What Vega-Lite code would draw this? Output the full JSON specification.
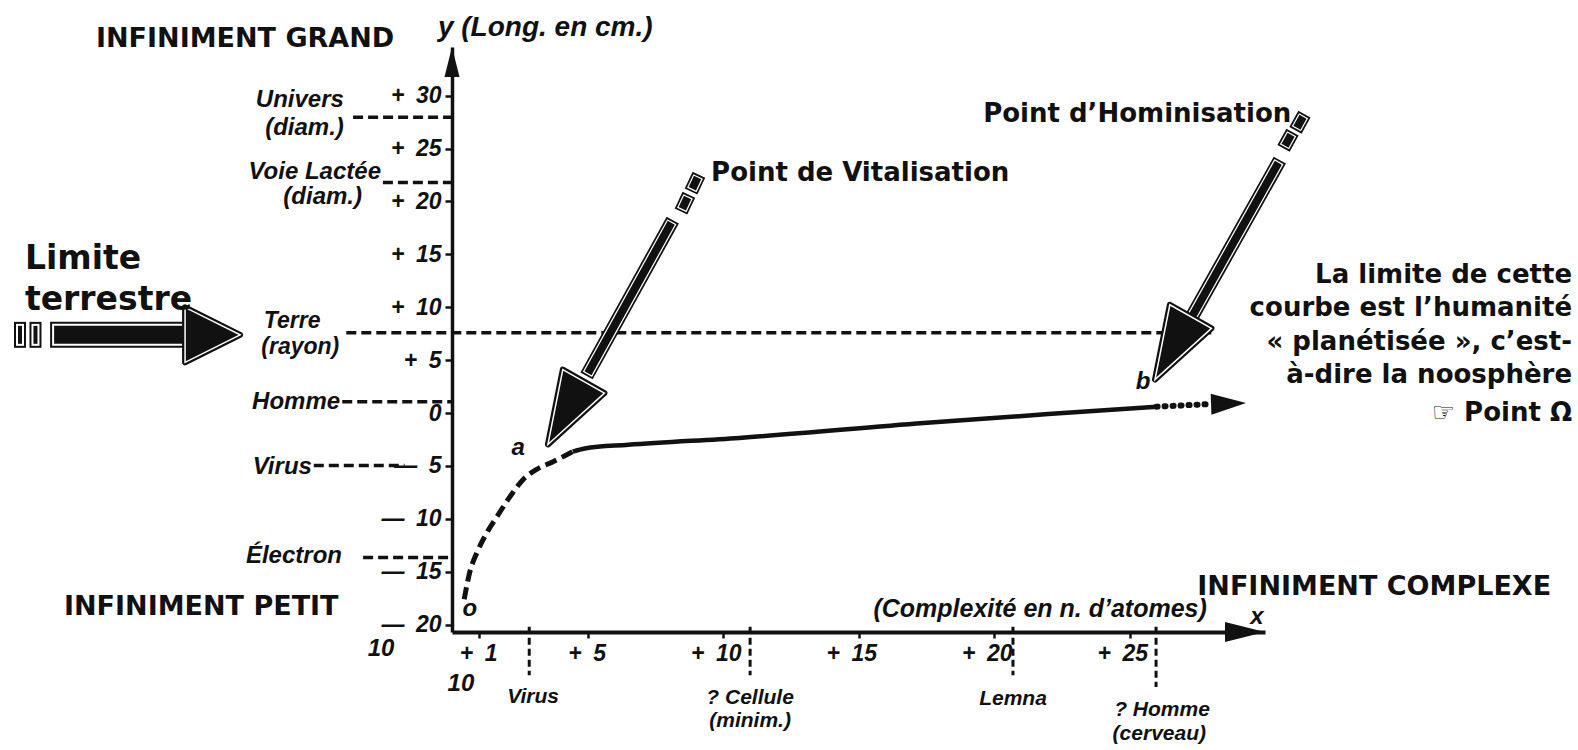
{
  "$schema": "https://vega.github.io/schema/vega-lite/v6.json",
  "width": 813,
  "height": 585,
  "autosize": {"type": "none"},
  "padding": {"left": 452, "top": 47, "right": 313, "bottom": 118},
  "background": "white",
  "config": {"view": {"stroke": null}, "axis": {"grid": false}},
  "datasets": {
    "refs": [
      {"x": -3.65, "x2": 0, "y": 27.95},
      {"x": -2.55, "x2": 0, "y": 21.8},
      {"x": -3.9, "x2": 28.1, "y": 7.58},
      {"x": -4.05, "x2": 0, "y": 1.07},
      {"x": -5.1, "x2": -1.75, "y": -4.95},
      {"x": -3.28, "x2": 0, "y": -13.65}
    ],
    "vmarks": [
      {"x": 2.85, "y": -20.2, "y2": -24.8},
      {"x": 11.0, "y": -20.2, "y2": -24.8},
      {"x": 20.7, "y": -20.2, "y2": -24.8},
      {"x": 25.98, "y": -20.2, "y2": -25.9}
    ],
    "curveDashed": [
      {"x": 0.45, "y": -17.6}, {"x": 0.66, "y": -15.0}, {"x": 0.92, "y": -13.2},
      {"x": 1.29, "y": -11.3}, {"x": 1.66, "y": -9.8}, {"x": 2.14, "y": -7.9},
      {"x": 2.62, "y": -6.3}, {"x": 3.14, "y": -5.3}, {"x": 3.73, "y": -4.6},
      {"x": 4.46, "y": -3.65}
    ],
    "curveSolid": [
      {"x": 4.46, "y": -3.65}, {"x": 4.9, "y": -3.35}, {"x": 6.5, "y": -3.0},
      {"x": 10.6, "y": -2.35}, {"x": 17.4, "y": -0.95}, {"x": 22.0, "y": -0.1},
      {"x": 26.0, "y": 0.6}
    ],
    "curveDotted": [{"x": 26.0, "y": 0.6}, {"x": 28.0, "y": 0.85}],
    "curveTip": [{"x": 29.3, "y": 0.95}],
    "yTip": [{"x": 0, "y": 34.6}],
    "xTip": [{"x": 30, "y": -20.7}],
    "diagShafts": [
      {"x": 8.02, "y": 17.65, "x2": 5.09, "y2": 4.09},
      {"x": 8.56, "y": 19.65, "x2": 8.63, "y2": 20.03},
      {"x": 8.93, "y": 21.54, "x2": 9.0, "y2": 21.92},
      {"x": 30.42, "y": 23.33, "x2": 27.34, "y2": 9.27},
      {"x": 30.81, "y": 25.6, "x2": 30.89, "y2": 25.97},
      {"x": 31.25, "y": 27.3, "x2": 31.33, "y2": 27.67}
    ],
    "diagHeads": [{"x": 3.54, "y": -2.97}, {"x": 25.94, "y": 3.16}],
    "hShaft": [{"x": -14.35, "x2": -9.85, "y": 7.39}],
    "hBlocks": [{"x": -15.94, "y": 8.05, "y2": 6.73}, {"x": -15.37, "y": 8.05, "y2": 6.73}],
    "hHead": [{"x": -7.82, "y": 7.39}],
    "bigCaps": [
      {"x": -13.14, "y": 35.4, "label": "INFINIMENT  GRAND"},
      {"x": -14.32, "y": -18.37, "label": "INFINIMENT PETIT"},
      {"x": 27.5, "y": -16.4, "label": "INFINIMENT COMPLEXE"}
    ],
    "limite": [
      {"x": -15.76, "y": 14.6, "label": "Limite"},
      {"x": -15.76, "y": 10.7, "label": "terrestre"}
    ],
    "points": [
      {"x": 9.56, "y": 22.67, "label": "Point de Vitalisation"},
      {"x": 19.6, "y": 28.3, "label": "Point d’Hominisation"}
    ],
    "rightBlock": [
      {"x": 41.33, "y": 13.05, "label": "La limite de cette"},
      {"x": 41.33, "y": 9.93, "label": "courbe est l’humanité"},
      {"x": 41.33, "y": 6.73, "label": "« planétisée », c’est-"},
      {"x": 41.33, "y": 3.61, "label": "à-dire la noosphère"},
      {"x": 41.33, "y": 0.03, "label": "☞ Point Ω"}
    ],
    "sideLabels": [
      {"x": -3.99, "y": 29.56, "label": "Univers"},
      {"x": -3.99, "y": 26.9, "label": "(diam.)"},
      {"x": -2.62, "y": 22.77, "label": "Voie Lactée"},
      {"x": -3.32, "y": 20.4, "label": "(diam.)"},
      {"x": -4.13, "y": 1.07, "label": "Homme"},
      {"x": -5.17, "y": -5.07, "label": "Virus"},
      {"x": -4.06, "y": -13.56, "label": "Électron"}
    ],
    "terreLabels": [
      {"x": -5.9, "y": 8.7, "label": "Terre"},
      {"x": -5.6, "y": 6.2, "label": "(rayon)"}
    ],
    "centerLabels": [
      {"x": 2.99, "y": -26.8, "label": "Virus"},
      {"x": 11.0, "y": -26.9, "label": "? Cellule"},
      {"x": 11.0, "y": -29.1, "label": "(minim.)"},
      {"x": 20.7, "y": -27.0, "label": "Lemna"},
      {"x": 26.2, "y": -28.1, "label": "? Homme"},
      {"x": 26.1, "y": -30.3, "label": "(cerveau)"}
    ],
    "letters": [
      {"x": 2.44, "y": -3.27, "label": "a"},
      {"x": 25.5, "y": 2.9, "label": "b"},
      {"x": 0.66, "y": -18.56, "label": "o"},
      {"x": 29.7, "y": -19.3, "label": "x"}
    ],
    "bases": [
      {"x": -2.62, "y": -22.35, "label": "10"},
      {"x": 0.33, "y": -25.6, "label": "10"}
    ],
    "yTitle": [{"x": -0.52, "y": 36.44, "label": "y (Long. en cm.)"}],
    "xTitle": [{"x": 21.7, "y": -18.56, "label": "(Complexité en n. d’atomes)"}]
  },
  "encoding": {
    "x": {
      "field": "x", "type": "quantitative",
      "scale": {"domain": [0, 30], "nice": false, "zero": false},
      "axis": {
        "title": null, "grid": false,
        "values": [1, 5, 10, 15, 20, 25],
        "labelExpr": "'+\u2002' + datum.value",
        "domainColor": "#111", "domainWidth": 4,
        "tickColor": "#111", "tickWidth": 2.5, "tickSize": 6,
        "labelFont": "Liberation Sans", "labelFontStyle": "italic", "labelFontWeight": "bold",
        "labelFontSize": 23, "labelColor": "#111",
        "labelAlign": "right", "labelOffset": 18, "labelPadding": 4,
        "labelFlush": false, "labelOverlap": false
      }
    },
    "y": {
      "field": "y", "type": "quantitative",
      "scale": {"domain": [-20.7, 34.6], "nice": false, "zero": false},
      "axis": {
        "title": null, "grid": false,
        "values": [-20, -15, -10, -5, 0, 5, 10, 15, 20, 25, 30],
        "labelExpr": "datum.value > 0 ? '+\u2002' + datum.value : (datum.value < 0 ? '—\u2002' + (-datum.value) : '0')",
        "domainColor": "#111", "domainWidth": 3.5,
        "tickColor": "#111", "tickWidth": 2.5, "tickSize": 7,
        "labelFont": "Liberation Sans", "labelFontStyle": "italic", "labelFontWeight": "bold",
        "labelFontSize": 23, "labelColor": "#111", "labelPadding": 4,
        "labelFlush": false, "labelOverlap": false
      }
    }
  },
  "layer": [
    {"data": {"name": "refs"}, "mark": {"type": "rule", "color": "#111", "strokeWidth": 3.5, "strokeDash": [10, 5]}, "encoding": {"x2": {"field": "x2"}}},
    {"data": {"name": "vmarks"}, "mark": {"type": "rule", "color": "#111", "strokeWidth": 3, "strokeDash": [7, 4]}, "encoding": {"y2": {"field": "y2"}}},
    {"data": {"name": "curveDashed"}, "mark": {"type": "line", "color": "#111", "strokeWidth": 5, "strokeDash": [12, 6], "interpolate": "monotone"}, "encoding": {}},
    {"data": {"name": "curveSolid"}, "mark": {"type": "line", "color": "#111", "strokeWidth": 4.5, "interpolate": "monotone"}, "encoding": {}},
    {"data": {"name": "curveDotted"}, "mark": {"type": "line", "color": "#111", "strokeWidth": 6, "strokeDash": [1, 7], "strokeCap": "round"}, "encoding": {}},
    {"data": {"name": "curveTip"}, "mark": {"type": "point", "shape": "M0,0L0.3,1L-0.3,1Z", "angle": 88, "size": 4900, "fill": "#111", "stroke": null, "opacity": 1, "filled": true}},
    {"data": {"name": "yTip"}, "mark": {"type": "point", "shape": "M0,0L0.25,1L-0.25,1Z", "angle": 0, "size": 3600, "fill": "#111", "stroke": null, "opacity": 1, "filled": true}},
    {"data": {"name": "xTip"}, "mark": {"type": "point", "shape": "M0,0L0.25,1L-0.25,1Z", "angle": 90, "size": 6400, "fill": "#111", "stroke": null, "opacity": 1, "filled": true}},
    {"data": {"name": "diagShafts"}, "mark": {"type": "rule", "color": "#111", "strokeWidth": 14, "strokeCap": "square"}, "encoding": {"x2": {"field": "x2"}, "y2": {"field": "y2"}}},
    {"data": {"name": "diagShafts"}, "mark": {"type": "rule", "color": "white", "strokeWidth": 10.5, "strokeCap": "square"}, "encoding": {"x2": {"field": "x2"}, "y2": {"field": "y2"}}},
    {"data": {"name": "diagShafts"}, "mark": {"type": "rule", "color": "#111", "strokeWidth": 8, "strokeCap": "square"}, "encoding": {"x2": {"field": "x2"}, "y2": {"field": "y2"}}},
    {"data": {"name": "diagHeads"}, "mark": {"type": "point", "shape": "M0,0L0.33,1L-0.33,1Z", "angle": 209.5, "size": 21000, "filled": true, "fill": "#111", "stroke": "#111", "strokeWidth": 6, "strokeJoin": "round", "opacity": 1}},
    {"data": {"name": "diagHeads"}, "mark": {"type": "point", "shape": "M0,0L0.33,1L-0.33,1Z", "angle": 209.5, "size": 21000, "filled": true, "fill": "#111", "stroke": "white", "strokeWidth": 1.5, "opacity": 1}},
    {"data": {"name": "hShaft"}, "mark": {"type": "rule", "color": "#111", "strokeWidth": 26, "strokeCap": "square"}, "encoding": {"x2": {"field": "x2"}}},
    {"data": {"name": "hShaft"}, "mark": {"type": "rule", "color": "white", "strokeWidth": 22, "strokeCap": "square"}, "encoding": {"x2": {"field": "x2"}}},
    {"data": {"name": "hShaft"}, "mark": {"type": "rule", "color": "#111", "strokeWidth": 18, "strokeCap": "square"}, "encoding": {"x2": {"field": "x2"}}},
    {"data": {"name": "hBlocks"}, "mark": {"type": "rule", "color": "#111", "strokeWidth": 12, "strokeCap": "square"}, "encoding": {"y2": {"field": "y2"}}},
    {"data": {"name": "hBlocks"}, "mark": {"type": "rule", "color": "white", "strokeWidth": 8, "strokeCap": "square"}, "encoding": {"y2": {"field": "y2"}}},
    {"data": {"name": "hBlocks"}, "mark": {"type": "rule", "color": "#111", "strokeWidth": 4, "strokeCap": "square"}, "encoding": {"y2": {"field": "y2"}}},
    {"data": {"name": "hHead"}, "mark": {"type": "point", "shape": "M0,0L0.5,1L-0.5,1Z", "angle": 90, "size": 12100, "filled": true, "fill": "#111", "stroke": "#111", "strokeWidth": 6, "strokeJoin": "round", "opacity": 1}},
    {"data": {"name": "hHead"}, "mark": {"type": "point", "shape": "M0,0L0.5,1L-0.5,1Z", "angle": 90, "size": 12100, "filled": true, "fill": "#111", "stroke": "white", "strokeWidth": 1.5, "opacity": 1}},
    {"data": {"name": "bigCaps"}, "mark": {"type": "text", "font": "DejaVu Sans", "fontWeight": "bold", "fontSize": 27, "align": "left", "baseline": "middle", "color": "#111"}, "encoding": {"text": {"field": "label"}}},
    {"data": {"name": "limite"}, "mark": {"type": "text", "font": "DejaVu Sans", "fontWeight": "bold", "fontSize": 33, "align": "left", "baseline": "middle", "color": "#111"}, "encoding": {"text": {"field": "label"}}},
    {"data": {"name": "points"}, "mark": {"type": "text", "font": "DejaVu Sans", "fontWeight": "bold", "fontSize": 26, "align": "left", "baseline": "middle", "color": "#111"}, "encoding": {"text": {"field": "label"}}},
    {"data": {"name": "rightBlock"}, "mark": {"type": "text", "font": "DejaVu Sans", "fontWeight": "bold", "fontSize": 26, "align": "right", "baseline": "middle", "color": "#111"}, "encoding": {"text": {"field": "label"}}},
    {"data": {"name": "sideLabels"}, "mark": {"type": "text", "font": "Liberation Sans", "fontStyle": "italic", "fontWeight": "bold", "fontSize": 24, "align": "right", "baseline": "middle", "color": "#111"}, "encoding": {"text": {"field": "label"}}},
    {"data": {"name": "terreLabels"}, "mark": {"type": "text", "font": "Liberation Sans", "fontStyle": "italic", "fontWeight": "bold", "fontSize": 23, "align": "center", "baseline": "middle", "color": "#111"}, "encoding": {"text": {"field": "label"}}},
    {"data": {"name": "centerLabels"}, "mark": {"type": "text", "font": "Liberation Sans", "fontStyle": "italic", "fontWeight": "bold", "fontSize": 21, "align": "center", "baseline": "middle", "color": "#111"}, "encoding": {"text": {"field": "label"}}},
    {"data": {"name": "letters"}, "mark": {"type": "text", "font": "Liberation Sans", "fontStyle": "italic", "fontWeight": "bold", "fontSize": 24, "align": "center", "baseline": "middle", "color": "#111"}, "encoding": {"text": {"field": "label"}}},
    {"data": {"name": "bases"}, "mark": {"type": "text", "font": "Liberation Sans", "fontStyle": "italic", "fontWeight": "bold", "fontSize": 24, "align": "center", "baseline": "middle", "color": "#111"}, "encoding": {"text": {"field": "label"}}},
    {"data": {"name": "yTitle"}, "mark": {"type": "text", "font": "Liberation Sans", "fontStyle": "italic", "fontWeight": "bold", "fontSize": 28, "align": "left", "baseline": "middle", "color": "#111"}, "encoding": {"text": {"field": "label"}}},
    {"data": {"name": "xTitle"}, "mark": {"type": "text", "font": "Liberation Sans", "fontStyle": "italic", "fontWeight": "bold", "fontSize": 25, "align": "center", "baseline": "middle", "color": "#111"}, "encoding": {"text": {"field": "label"}}}
  ]
}
